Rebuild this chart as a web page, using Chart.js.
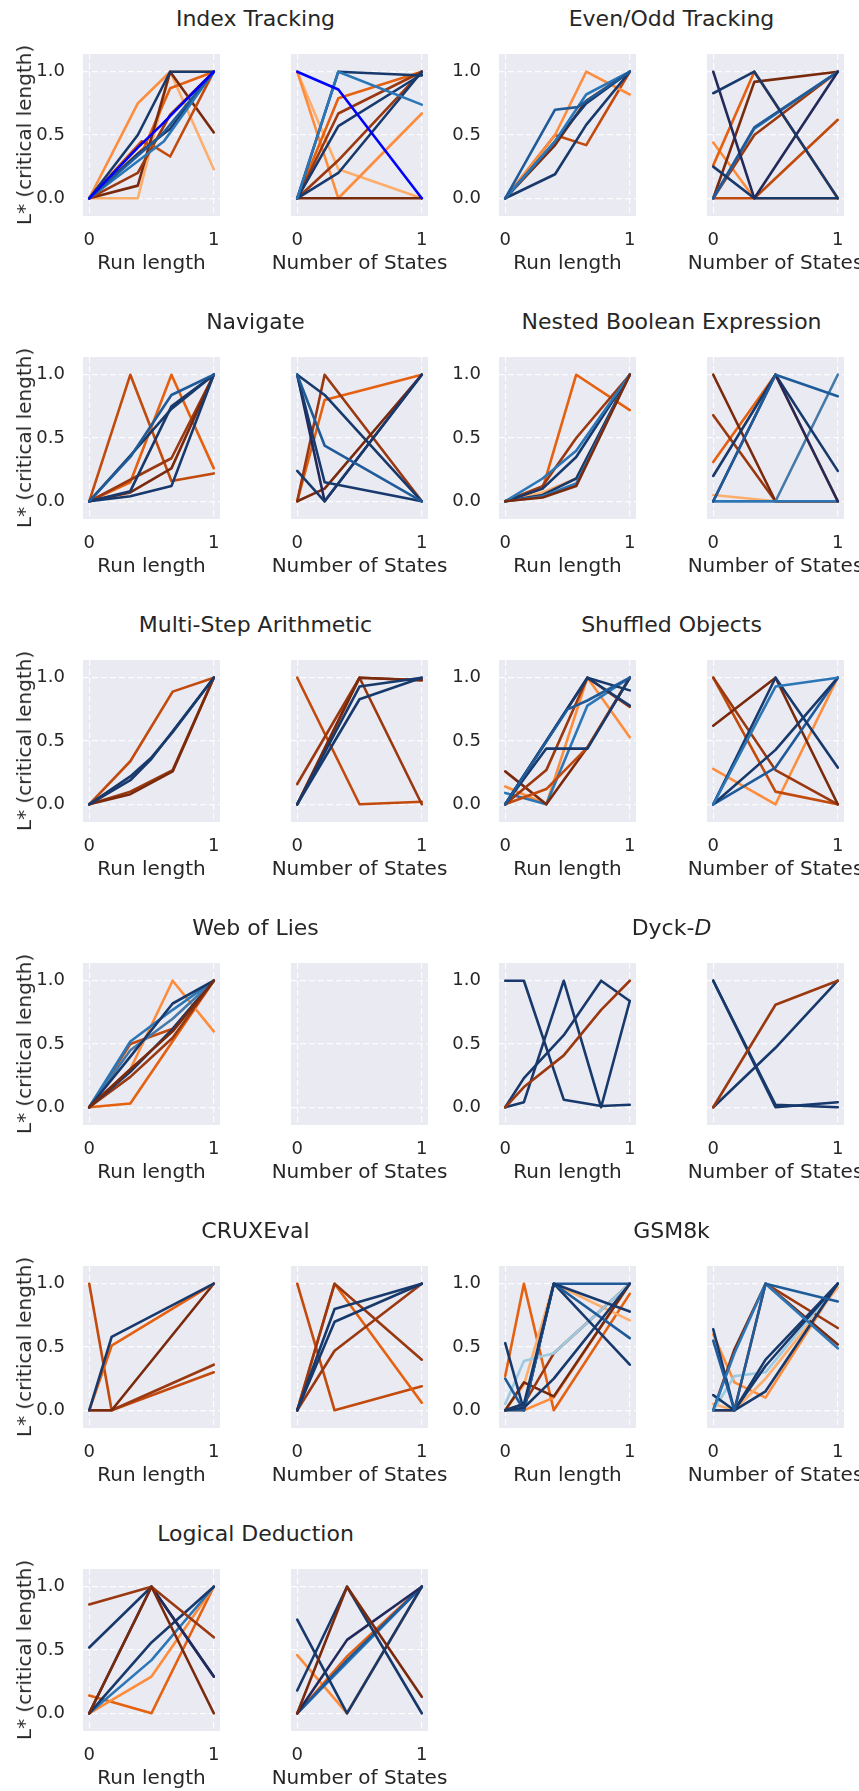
<!DOCTYPE html>
<html>
<head>
<meta charset="utf-8">
<script src="https://cdn.jsdelivr.net/npm/chart.js@4.4.1/dist/chart.umd.min.js"></script>
<style>
  html, body { margin: 0; padding: 0; background: #fff; }
  #fig { position: relative; width: 859px; height: 1791px; overflow: hidden; background: #fff; }
  #fig canvas { position: absolute; }
  .txt { position: absolute; font-family: "DejaVu Sans", sans-serif; color: #262626; white-space: nowrap; line-height: 1; transform: translate(-50%, -50%); }
</style>
</head>
<body>
<div id="fig"></div>
<script>
// tick values shared by every panel
const xTicks = [0, 1];
const yTicks = [0, 0.5, 1];

// line colours (short keys used in the colour lists below)
const PAL = {
  nv: '#17396b', dn: '#23295a', bl: '#1f5a99', mb: '#2b76b6', sb: '#4479a8', lb: '#9ecae1', bb: '#0000ff',
  lo: '#fdae6b', or: '#fd8d3c', ro: '#e5600f', ob: '#c24a0c', br: '#9a3810', db: '#7a2a0c'
};

// Index Tracking
const indexRun = [
  [[0,0],[0.39,0],[0.65,1],[1,0.23]],
  [[0,0],[0.39,0.75],[0.65,1],[1,1]],
  [[0,0],[0.44,0.4],[0.65,0.87],[1,1]],
  [[0,0],[0.39,0.1],[0.65,1],[1,0.52]],
  [[0,0],[0.39,0.2],[0.65,0.66],[1,1]],
  [[0,0],[0.42,0.45],[0.52,0.41],[0.65,0.33],[1,1]],
  [[0,0],[0.39,0.5],[0.65,1],[1,1]],
  [[0,0],[0.39,0.35],[0.65,0.55],[1,1]],
  [[0,0],[0.6,0.45],[1,1]],
  [[0,0],[0.58,0.5],[1,1]],
  [[0,0],[0.39,0.4],[0.58,0.58],[1,1]]
];
const indexRunColors = ['lo','or','ro','db','br','ob','nv','nv','mb','bl','bb'];
const indexStates = [
  [[0,1],[0.33,0.23],[1,0]],
  [[0,1],[0.33,0],[1,0.67]],
  [[0,0],[0.33,0],[1,0]],
  [[0,0],[0.33,0.79],[1,1]],
  [[0,0],[0.33,0.67],[1,1]],
  [[0,0],[0.33,0.3],[1,1]],
  [[0,0],[0.33,0.2],[1,1]],
  [[0,0],[0.33,0.57],[1,0.98]],
  [[0,0],[0.33,1],[1,0.97]],
  [[0,0],[0.33,1],[1,0.74]],
  [[0,1],[0.33,0.86],[1,0]]
];
const indexStatesColors = ['lo','or','db','ro','br','br','nv','nv','nv','mb','bb'];

// Even/Odd Tracking
const evenRun = [
  [[0,0],[0.4,0.5],[0.65,0.42],[1,1]],
  [[0,0],[0.4,0.5],[0.65,1],[1,0.82]],
  [[0,0],[0.4,0.42],[0.65,0.77],[1,1]],
  [[0,0],[0.4,0.19],[0.65,0.58],[1,1]],
  [[0,0],[0.4,0.45],[0.65,0.75],[1,1]],
  [[0,0],[0.4,0.45],[0.65,0.82],[1,1]],
  [[0,0],[0.4,0.7],[0.58,0.72],[1,1]]
];
const evenRunColors = ['ob','or','db','nv','nv','mb','bl'];
const evenStates = [
  [[0,0.44],[0.33,0],[1,0]],
  [[0,0.26],[0.33,1],[1,0]],
  [[0,0],[0.33,0],[1,0.62]],
  [[0,0],[0.33,0.92],[1,1]],
  [[0,0],[0.33,0.5],[1,1]],
  [[0,0],[0.33,0.55],[1,1]],
  [[0,0],[0.33,0.56],[1,1]],
  [[0,0.25],[0.33,0],[1,0]],
  [[0,1],[0.33,0],[1,1]],
  [[0,0.83],[0.33,1],[1,0]]
];
const evenStatesColors = ['or','ro','ob','db','br','mb','bl','nv','dn','nv'];

// Navigate
const navRun = [
  [[0,0],[0.33,1],[0.66,0.16],[1,0.22]],
  [[0,0],[0.33,0.15],[0.66,1],[1,0.26]],
  [[0,0],[0.33,0.17],[0.66,0.34],[1,1]],
  [[0,0],[0.33,0.07],[0.66,0.26],[1,1]],
  [[0,0],[0.33,0.04],[0.66,0.12],[1,1]],
  [[0,0],[0.33,0.08],[0.66,0.75],[1,1]],
  [[0,0],[0.33,0.36],[0.66,0.73],[1,1]],
  [[0,0],[0.33,0.35],[0.66,0.84],[1,1]]
];
const navRunColors = ['ob','ro','br','db','nv','nv','nv','bl'];
const navStates = [
  [[0,0],[0.22,0.8],[1,1]],
  [[0,0],[0.22,1],[1,0]],
  [[0,0],[0.22,0.1],[1,1]],
  [[0,1],[0.22,0],[1,1]],
  [[0,1],[0.22,0.84],[1,0]],
  [[0,1],[0.22,0.15],[1,0]],
  [[0,0.24],[0.22,0],[1,1]],
  [[0,1],[0.22,0.44],[1,0]]
];
const navStatesColors = ['ro','br','db','dn','nv','nv','nv','bl'];

// Nested Boolean Expression
const nestRun = [
  [[0,0],[0.3,0.07],[0.57,0.18],[1,1]],
  [[0,0],[0.3,0.1],[0.57,1],[1,0.72]],
  [[0,0],[0.3,0.12],[0.57,0.5],[1,1]],
  [[0,0],[0.3,0.05],[0.57,0.18],[1,1]],
  [[0,0],[0.3,0.04],[0.57,0.14],[1,1]],
  [[0,0],[0.3,0.1],[0.57,0.35],[1,1]],
  [[0,0],[0.3,0.18],[0.57,0.4],[1,1]],
  [[0,0],[0.3,0.03],[0.57,0.12],[1,1]]
];
const nestRunColors = ['lo','ro','br','nv','mb','nv','mb','db'];
const nestStates = [
  [[0,0.05],[0.5,0],[1,0]],
  [[0,0.31],[0.5,1],[1,0]],
  [[0,0.68],[0.5,0],[1,0]],
  [[0,1],[0.5,0],[1,0]],
  [[0,0],[0.5,0],[1,1]],
  [[0,0],[0.5,0],[1,0]],
  [[0,0.2],[0.5,1],[1,0.24]],
  [[0,0],[0.5,1],[1,0]],
  [[0,0],[0.5,1],[1,0.83]]
];
const nestStatesColors = ['lo','ro','br','db','sb','mb','nv','dn','bl'];

// Multi-Step Arithmetic
const multiRun = [
  [[0,0],[0.33,0.34],[0.67,0.89],[1,1]],
  [[0,0],[0.33,0.1],[0.67,0.27],[1,1]],
  [[0,0],[0.33,0.08],[0.67,0.26],[1,1]],
  [[0,0],[0.33,0.19],[0.5,0.36],[1,1]],
  [[0,0],[0.33,0.22],[0.5,0.37],[0.67,0.57],[1,1]]
];
const multiRunColors = ['ob','br','db','nv','nv'];
const multiStates = [
  [[0,1],[0.5,0],[1,0.02]],
  [[0,0.16],[0.5,1],[1,0.98]],
  [[0,0],[0.5,1],[1,0]],
  [[0,0],[0.5,1],[1,0.98]],
  [[0,0],[0.5,0.83],[1,1]],
  [[0,0],[0.5,0.93],[1,1]]
];
const multiStatesColors = ['ob','br','br','db','nv','nv'];

// Shuffled Objects
const shufRun = [
  [[0,0.14],[0.33,0],[0.66,1],[1,0.53]],
  [[0,0.09],[0.33,0],[0.66,0.78],[1,1]],
  [[0,0.26],[0.33,0],[0.66,0.45],[1,1]],
  [[0,0],[0.33,0.12],[0.66,0.45],[1,1]],
  [[0,0],[0.33,0.27],[0.66,1],[1,0.77]],
  [[0,0],[0.33,0.44],[0.66,0.44],[1,1]],
  [[0,0],[0.66,1],[1,0.9]],
  [[0,0],[0.66,1],[1,0.78]],
  [[0,0],[0.5,0.75],[0.66,0.82],[1,1]]
];
const shufRunColors = ['or','mb','db','ob','br','nv','nv','nv','bl'];
const shufStates = [
  [[0,0.28],[0.5,0],[1,1]],
  [[0,1],[0.5,0.1],[1,0]],
  [[0,1],[0.5,0.27],[1,0]],
  [[0,0.62],[0.5,1],[1,0]],
  [[0,0],[0.5,0.29],[1,1]],
  [[0,0],[0.5,0.43],[1,1]],
  [[0,0],[0.5,1],[1,0.29]],
  [[0,0],[0.5,0.93],[1,1]]
];
const shufStatesColors = ['or','ob','br','db','bl','nv','nv','mb'];

// Web of Lies
const webRun = [
  [[0,0],[0.33,0.03],[1,1]],
  [[0,0],[0.33,0.3],[0.67,1],[1,0.6]],
  [[0,0],[0.33,0.24],[0.67,0.55],[1,1]],
  [[0,0],[0.33,0.5],[0.67,0.62],[1,1]],
  [[0,0],[0.33,0.28],[0.67,0.62],[1,1]],
  [[0,0],[0.33,0.45],[0.67,0.7],[1,1]],
  [[0,0],[0.33,0.52],[0.67,0.77],[1,1]],
  [[0,0],[0.33,0.4],[0.67,0.82],[1,1]],
  [[0,0],[0.33,0.3],[0.67,0.6],[1,1]]
];
const webRunColors = ['ro','or','br','ob','nv','sb','mb','nv','db'];
const webStates = [];
const webStatesColors = [];

// Dyck-D
const dyckRun = [
  [[0,1],[0.15,1],[0.47,0.06],[0.77,0.01],[1,0.02]],
  [[0,0],[0.15,0.04],[0.47,1],[0.77,0],[1,0.84]],
  [[0,0],[0.15,0.23],[0.47,0.57],[0.77,1],[1,0.84]],
  [[0,0],[0.15,0.16],[0.47,0.41],[0.77,0.77],[1,1]]
];
const dyckRunColors = ['nv','nv','nv','br'];
const dyckStates = [
  [[0,1],[0.5,0],[1,0.04]],
  [[0,1],[0.5,0.02],[1,0]],
  [[0,0],[0.5,0.47],[1,1]],
  [[0,0],[0.5,0.81],[1,1]]
];
const dyckStatesColors = ['nv','nv','nv','br'];

// CRUXEval
const cruxRun = [
  [[0,1],[0.18,0],[1,0.3]],
  [[0,0],[0.18,0],[1,0.36]],
  [[0,0],[0.18,0],[1,1]],
  [[0,0],[0.18,0.51],[1,1]],
  [[0,0],[0.18,0.58],[1,1]]
];
const cruxRunColors = ['ob','br','db','ro','nv'];
const cruxStates = [
  [[0,1],[0.3,0],[1,0.19]],
  [[0,0],[0.3,1],[1,0.06]],
  [[0,0],[0.3,1],[1,0.4]],
  [[0,0],[0.3,0.47],[1,1]],
  [[0,0],[0.3,0.7],[1,1]],
  [[0,0],[0.3,0.8],[1,1]]
];
const cruxStatesColors = ['ob','ro','br','br','nv','nv'];

// GSM8k
const gsmRun = [
  [[0,0.27],[0.15,1],[0.39,0],[1,0.92]],
  [[0,0],[0.15,0],[0.39,0.1],[1,1]],
  [[0,0],[0.15,0.2],[0.39,1],[1,0.71]],
  [[0,0],[0.15,0.22],[0.39,0.11],[1,1]],
  [[0,0],[0.15,0.05],[0.39,0.45],[1,1]],
  [[0,0.05],[0.15,0.39],[0.39,0.45],[1,1]],
  [[0,0.53],[0.15,0],[0.39,1],[1,0.36]],
  [[0,0.25],[0.15,0],[0.39,1],[1,1]],
  [[0,0],[0.15,0],[0.39,1],[1,0.57]],
  [[0,0],[0.15,0.05],[0.39,1],[1,0.78]],
  [[0,0],[0.15,0.02],[0.39,0.25],[1,1]]
];
const gsmRunColors = ['ro','or','lo','db','br','lb','nv','bl','bl','nv','nv'];
const gsmStates = [
  [[0,0.6],[0.17,0.22],[0.42,0.1],[1,1]],
  [[0,0.05],[0.17,0],[0.42,0.25],[1,0.97]],
  [[0,0],[0.17,0.48],[0.42,1],[1,0.52]],
  [[0,0],[0.17,0],[0.42,1],[1,0.65]],
  [[0,0],[0.17,0.27],[0.42,0.3],[1,1]],
  [[0,0.64],[0.17,0],[0.42,0.4],[1,1]],
  [[0,0.12],[0.17,0],[0.42,0.15],[1,1]],
  [[0,0],[0.17,0],[0.42,0.35],[1,1]],
  [[0,0],[0.17,0.45],[0.42,1],[1,0.49]],
  [[0,0.55],[0.17,0],[0.42,1],[1,0.86]]
];
const gsmStatesColors = ['or','lo','db','br','lb','nv','nv','nv','mb','bl'];

// Logical Deduction
const logicRun = [
  [[0,0.14],[0.5,0],[1,1]],
  [[0,0],[0.5,0.29],[1,1]],
  [[0,0],[0.5,0.42],[1,1]],
  [[0,0],[0.5,0.56],[1,1]],
  [[0,0.52],[0.5,1],[1,0.29]],
  [[0,0],[0.5,1],[1,0.29]],
  [[0,0.86],[0.5,1],[1,0.6]],
  [[0,0],[0.5,1],[1,0]]
];
const logicRunColors = ['ro','or','mb','nv','nv','dn','br','db'];
const logicStates = [
  [[0,0.46],[0.4,0],[1,1]],
  [[0,0],[0.4,0.45],[1,1]],
  [[0,0],[0.4,0.4],[1,1]],
  [[0,0],[0.4,0.42],[1,1]],
  [[0,0],[0.4,0.58],[1,1]],
  [[0,0.74],[0.4,0],[1,1]],
  [[0,0.18],[0.4,1],[1,0]],
  [[0,0],[0.4,1],[1,0.13]]
];
const logicStatesColors = ['or','ro','mb','bl','dn','nv','nv','db'];

const tasks = [
  { title: 'Index Tracking', run: indexRun, runC: indexRunColors, st: indexStates, stC: indexStatesColors },
  { title: 'Even/Odd Tracking', run: evenRun, runC: evenRunColors, st: evenStates, stC: evenStatesColors },
  { title: 'Navigate', run: navRun, runC: navRunColors, st: navStates, stC: navStatesColors },
  { title: 'Nested Boolean Expression', run: nestRun, runC: nestRunColors, st: nestStates, stC: nestStatesColors },
  { title: 'Multi-Step Arithmetic', run: multiRun, runC: multiRunColors, st: multiStates, stC: multiStatesColors },
  { title: 'Shuffled Objects', run: shufRun, runC: shufRunColors, st: shufStates, stC: shufStatesColors },
  { title: 'Web of Lies', run: webRun, runC: webRunColors, st: webStates, stC: webStatesColors },
  { title: 'Dyck-<i>D</i>', run: dyckRun, runC: dyckRunColors, st: dyckStates, stC: dyckStatesColors },
  { title: 'CRUXEval', run: cruxRun, runC: cruxRunColors, st: cruxStates, stC: cruxStatesColors },
  { title: 'GSM8k', run: gsmRun, runC: gsmRunColors, st: gsmStates, stC: gsmStatesColors },
  { title: 'Logical Deduction', run: logicRun, runC: logicRunColors, st: logicStates, stC: logicStatesColors }
];

// layout of the figure
const rowTops = [54, 357, 660, 963, 1266, 1569];
const colLefts = [83, 291, 499, 707];
const PW = 137, PH = 162, AXW = 83, PADT = 10, PADR = 16, XAXH = 40;
const TXT = '#262626';
const FONT = 'DejaVu Sans';

const fig = document.getElementById('fig');

function addText(html, x, y, size, rotate) {
  const d = document.createElement('div');
  d.className = 'txt';
  d.innerHTML = html;
  d.style.left = x + 'px';
  d.style.top = y + 'px';
  d.style.fontSize = size + 'px';
  if (rotate) d.style.transform = 'translate(-50%, -50%) rotate(-90deg)';
  fig.appendChild(d);
}

const bgPlugin = {
  id: 'plotBg',
  beforeDraw(chart) {
    const { ctx, chartArea: a } = chart;
    ctx.save();
    ctx.fillStyle = '#eaeaf2';
    ctx.fillRect(a.left, a.top, a.right - a.left, a.bottom - a.top);
    ctx.restore();
  }
};

// fixed axis sizes so every plot area lands in the same place
function fixX(s) {
  s.height = XAXH;
  s.paddingLeft = 0; s.paddingRight = 0; s.paddingTop = 0; s.paddingBottom = 0;
}
function fixY(s) {
  s.width = AXW;
  s.paddingLeft = 0; s.paddingRight = 0; s.paddingTop = 0; s.paddingBottom = 0;
}

function makePanel(left, top, series, colors, showYTicks) {
  const cv = document.createElement('canvas');
  cv.width = AXW + PW + PADR;
  cv.height = PADT + PH + XAXH;
  cv.style.left = (left - AXW) + 'px';
  cv.style.top = (top - PADT) + 'px';
  fig.appendChild(cv);

  const grid = { color: 'rgba(255,255,255,0.9)', lineWidth: 1.2, drawTicks: false };
  const border = { display: false, dash: [6, 3] };
  const tickFont = { family: FONT, size: 18 };

  // Chart.js paints the first dataset on top, so reverse to keep later series above
  const datasets = series.map((pts, i) => ({
    data: pts.map(p => ({ x: p[0], y: p[1] })),
    borderColor: PAL[colors[i]],
    borderWidth: 2.6,
    borderJoinStyle: 'round',
    borderCapStyle: 'round',
    pointRadius: 0,
    fill: false,
    tension: 0
  })).reverse();

  new Chart(cv, {
    type: 'line',
    data: { datasets: datasets },
    options: {
      responsive: false,
      animation: false,
      devicePixelRatio: 1,
      layout: { padding: { top: PADT, right: PADR, left: 0, bottom: 0 } },
      plugins: { legend: { display: false }, tooltip: { enabled: false } },
      scales: {
        x: {
          type: 'linear', min: -0.05, max: 1.05,
          afterBuildTicks: s => { s.ticks = xTicks.map(v => ({ value: v })); },
          afterFit: fixX,
          ticks: { padding: 14, color: TXT, font: tickFont, maxRotation: 0, autoSkip: false, callback: v => String(v) },
          grid: grid, border: border
        },
        y: {
          type: 'linear', min: -0.14, max: 1.14,
          afterBuildTicks: s => { s.ticks = yTicks.map(v => ({ value: v })); },
          afterFit: fixY,
          ticks: { display: showYTicks, padding: 18, color: TXT, font: tickFont, autoSkip: false, callback: v => v.toFixed(1) },
          grid: grid, border: border
        }
      }
    },
    plugins: [bgPlugin]
  });
}

tasks.forEach((t, i) => {
  const row = Math.floor(i / 2);
  const side = i % 2;
  const top = rowTops[row];
  const lA = colLefts[side * 2];
  const lB = colLefts[side * 2 + 1];

  makePanel(lA, top, t.run, t.runC, true);
  makePanel(lB, top, t.st, t.stC, false);

  addText(t.title, (lA + lB + PW) / 2, top - 35, 22);
  addText('Run length', lA + PW / 2, top + PH + 46, 20);
  addText('Number of States', lB + PW / 2, top + PH + 46, 20);
  if (side === 0) addText('L* (critical length)', 24, top + PH / 2, 20, true);
});
</script>
</body>
</html>
